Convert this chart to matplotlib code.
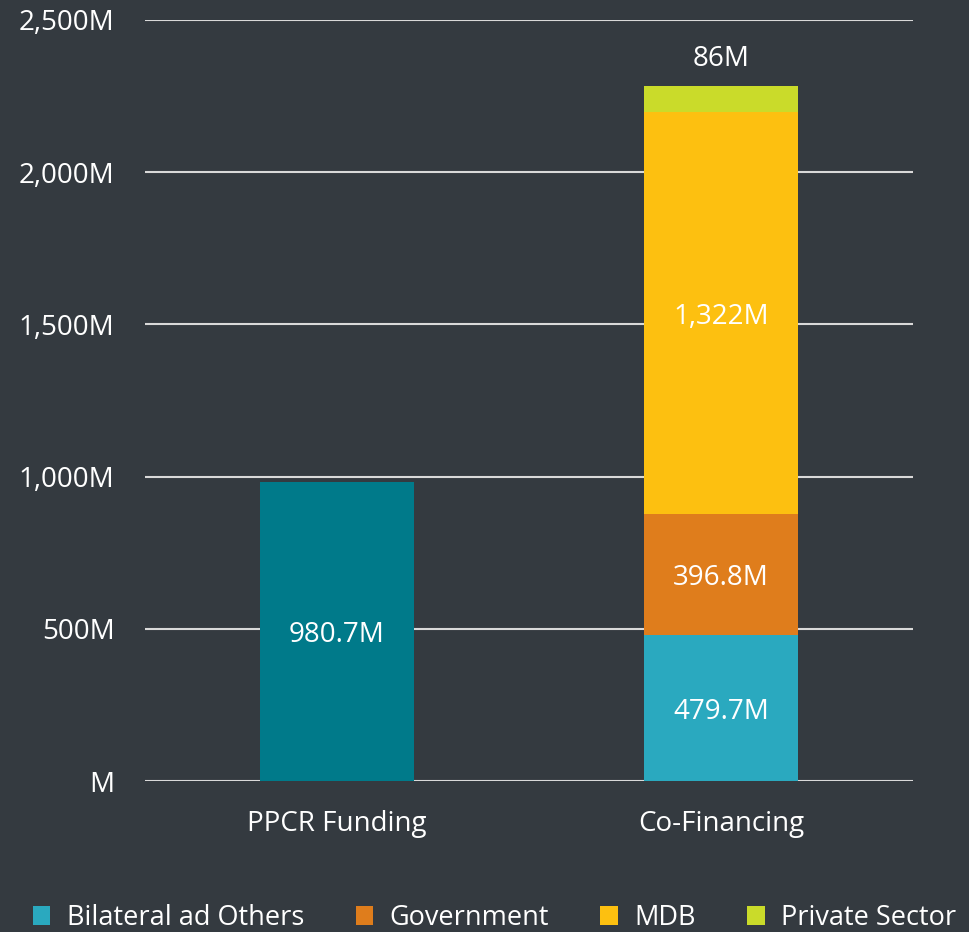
import matplotlib.pyplot as plt
from matplotlib.patches import Patch
from matplotlib.ticker import FuncFormatter

# data
categories = ["PPCR Funding", "Co-Financing"]
ppcr_funding = [980.7, 0]
bilateral = [0, 479.7]
government = [0, 396.8]
mdb = [0, 1322]
private_sector = [0, 86]
series_names = ["Bilateral ad Others", "Government", "MDB", "Private Sector"]
yticks = [0, 500, 1000, 1500, 2000, 2500]

BG = "#343a40"
colors = {"ppcr": "#007a8a", "Bilateral ad Others": "#2aa9bf",
          "Government": "#df7d1c", "MDB": "#fdc010", "Private Sector": "#cadb2a"}

plt.rcParams['font.family'] = ['Open Sans', 'DejaVu Sans']
FS = 20

fig = plt.figure(figsize=(9.69, 9.32), dpi=100, facecolor=BG)
ax = fig.add_axes([145 / 969, 151 / 932, 768 / 969, 761 / 932], facecolor=BG)

x = [0, 1]
width = 0.4
ax.bar(x[0], ppcr_funding[0], width, color=colors["ppcr"], zorder=3)
ax.text(x[0], ppcr_funding[0] * 0.5 - 12, f"{ppcr_funding[0]}M", ha='center', va='center',
        color='white', fontsize=FS)

stack = [bilateral, government, mdb, private_sector]
labels = ["479.7M", "396.8M", "1,322M", "86M"]
bottom = 0
for name, vals, lab in zip(series_names, stack, labels):
    v = vals[1]
    ax.bar(x[1], v, width, bottom=bottom, color=colors[name], zorder=3)
    if name == "Private Sector":
        ax.text(x[1], bottom + v + 40, lab, ha='center', va='bottom', color='white', fontsize=FS)
    else:
        ax.text(x[1], bottom + v * 0.5 - 12, lab, ha='center', va='center', color='white', fontsize=FS)
    bottom += v

ax.set_xlim(-0.5, 1.5)
ax.set_ylim(0, 2500)
ax.set_yticks(yticks)
ax.yaxis.set_major_formatter(FuncFormatter(lambda v, p: f"{int(v):,}M" if v else "M"))
ax.set_xticks(x)
ax.set_xticklabels(categories)
ax.tick_params(axis='both', length=0, colors='white', labelsize=FS)
ax.tick_params(axis='y', pad=22)
ax.tick_params(axis='x', pad=21)
ax.grid(axis='y', color='#d9d9d9', linewidth=1.5, zorder=0)
for s in ax.spines.values():
    s.set_visible(False)

handles = [Patch(facecolor=colors[n], label=n) for n in series_names]
leg = fig.legend(handles=handles, loc='center', bbox_to_anchor=(0.5 + 10 / 969, 1 - 918 / 932), ncol=4,
                 frameon=False, fontsize=19.5, handlelength=0.65, handleheight=0.7,
                 handletextpad=0.6, columnspacing=1.9, borderpad=0, borderaxespad=0)
for t in leg.get_texts():
    t.set_color('white')

fig.savefig("out.png", dpi=100, facecolor=BG)
